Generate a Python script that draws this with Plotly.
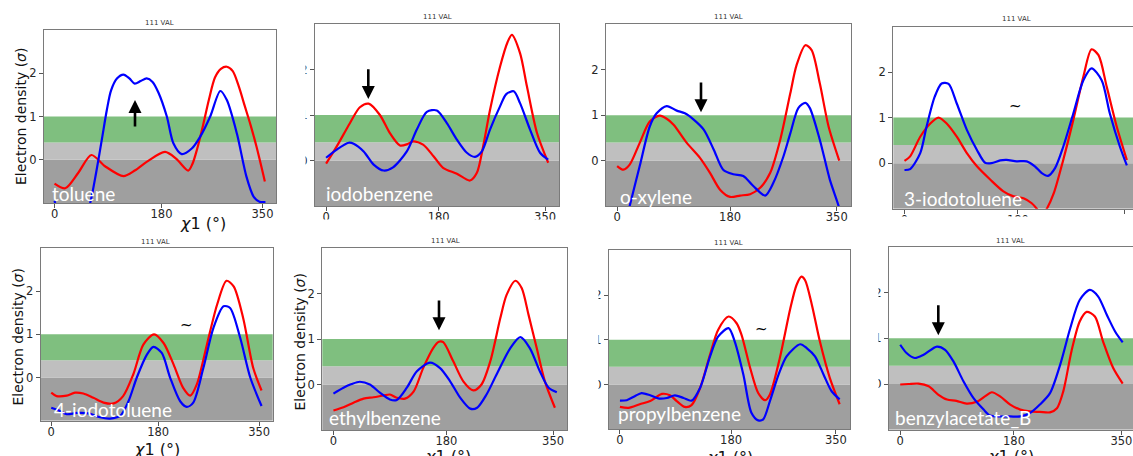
import plotly.graph_objects as go

W, H = 1133, 456

# Electron density profiles along chi1 for each ligand: (chi1 in degrees, density in sigma)
toluene_red = [(0, -0.55), (18, -0.66), (40, -0.3), (62, 0.11), (85, -0.15), (116, -0.38), (135, -0.25),
               (155, -0.05), (186, 0.18), (205, 0.02), (225, -0.25), (232, -0.1), (240, 0.25), (250, 0.8),
               (260, 1.4), (270, 1.9), (280, 2.1), (290, 2.15), (300, 2.05), (310, 1.7), (320, 1.25),
               (330, 0.8), (340, 0.3), (354, -0.5)]
toluene_blue = [(0, -0.95), (8, -1.3), (30, -1.8), (50, -1.4), (60, -1.0), (70, -0.3), (80, 0.5), (88, 1.15),
                (95, 1.6), (105, 1.88), (116, 1.97), (126, 1.88), (135, 1.76), (145, 1.82), (155, 1.88),
                (165, 1.8), (175, 1.55), (189, 1.0), (200, 0.38), (214, 0.13), (231, 0.26), (245, 0.53),
                (262, 1.0), (279, 1.59), (290, 1.38), (307, 0.6), (323, -0.39), (335, -0.85), (345, -0.97),
                (355, -0.98)]

iodobenzene_red = [(0, -0.07), (17, 0.31), (38, 0.82), (54, 1.17), (68, 1.25), (86, 1.0), (102, 0.6),
                   (118, 0.33), (130, 0.36), (139, 0.42), (155, 0.35), (172, 0.09), (187, -0.16), (209, -0.29),
                   (230, -0.44), (241, -0.27), (251, 0.31), (262, 1.11), (278, 2.06), (290, 2.6), (297, 2.76),
                   (310, 2.36), (321, 1.63), (337, 0.61), (355, -0.05)]
iodobenzene_blue = [(0, 0.06), (17, 0.24), (36, 0.39), (44, 0.37), (60, 0.2), (76, -0.09), (92, -0.22),
                    (107, -0.15), (129, 0.2), (145, 0.68), (161, 1.07), (177, 1.1), (193, 0.82), (209, 0.46),
                    (225, 0.17), (238, 0.08), (249, 0.2), (262, 0.68), (278, 1.19), (288, 1.46), (300, 1.52),
                    (310, 1.26), (326, 0.68), (342, 0.17), (355, 0.02)]

oxylene_red = [(0, -0.12), (10, -0.2), (20, -0.09), (36, 0.39), (52, 0.86), (68, 0.99), (79, 0.92), (90, 0.79),
               (111, 0.39), (132, 0.06), (148, -0.27), (164, -0.64), (180, -0.8), (196, -0.77), (212, -0.74),
               (228, -0.6), (244, -0.27), (260, 0.46), (276, 1.48), (286, 2.1), (300, 2.54), (310, 2.43),
               (323, 1.7), (337, 0.75), (354, 0.0)]
oxylene_blue = [(0, -1.9), (10, -1.6), (20, -1.0), (36, -0.12), (52, 0.75), (63, 1.04), (79, 1.2), (95, 1.1),
                (108, 1.04), (122, 0.9), (138, 0.68), (154, 0.24), (169, -0.2), (185, -0.3), (201, -0.34),
                (217, -0.56), (236, -0.77), (249, -0.49), (265, 0.09), (276, 0.6), (289, 1.16), (300, 1.27),
                (307, 1.16), (323, 0.46), (339, -0.42), (353, -1.0), (356, -1.2)]

iodotoluene3_red = [(0, 0.05), (9, 0.15), (25, 0.58), (41, 0.87), (54, 1.0), (67, 0.87), (83, 0.58), (99, 0.22),
                    (115, -0.07), (136, -0.36), (157, -0.62), (173, -0.73), (189, -0.77), (202, -0.88),
                    (210, -1.0), (218, -1.15), (226, -1.0), (237, -0.66), (252, 0.07), (268, 0.95), (284, 1.9),
                    (297, 2.5), (308, 2.37), (321, 1.68), (337, 0.8), (353, 0.07)]
iodotoluene3_blue = [(0, -0.15), (9, -0.13), (25, 0.22), (35, 0.8), (48, 1.46), (59, 1.75), (70, 1.74),
                     (83, 1.31), (99, 0.73), (115, 0.29), (128, 0.01), (138, 0.0), (152, 0.06), (162, 0.07),
                     (178, 0.04), (194, 0.04), (207, -0.07), (218, -0.22), (228, -0.28), (239, -0.11),
                     (252, 0.36), (268, 1.09), (284, 1.82), (297, 2.08), (313, 1.82), (326, 1.09), (342, 0.36),
                     (353, -0.05)]

iodotoluene4_red = [(0, -0.35), (9, -0.43), (26, -0.42), (40, -0.35), (54, -0.37), (71, -0.47), (88, -0.58),
                    (105, -0.6), (121, -0.43), (138, 0.07), (155, 0.76), (173, 1.0), (189, 0.8), (206, 0.3),
                    (222, -0.24), (234, -0.42), (245, -0.16), (262, 0.76), (279, 1.68), (295, 2.24),
                    (307, 2.11), (323, 1.38), (340, 0.22), (354, -0.3)]
iodotoluene4_blue = [(0, -0.7), (12, -0.76), (26, -0.85), (43, -0.82), (63, -0.83), (82, -0.92), (99, -0.95),
                     (116, -0.89), (130, -0.55), (144, 0.0), (161, 0.53), (172, 0.71), (186, 0.57), (200, 0.0),
                     (217, -0.55), (228, -0.68), (239, -0.58), (256, 0.22), (273, 1.15), (290, 1.65),
                     (301, 1.61), (318, 0.92), (335, 0.0), (354, -0.66)]

ethylbenzene_red = [(0, -0.57), (16, -0.5), (32, -0.4), (48, -0.31), (64, -0.28), (80, -0.24), (90, -0.22),
                    (101, -0.29), (114, -0.31), (128, -0.15), (143, 0.36), (159, 0.8), (168, 0.94), (175, 0.93),
                    (191, 0.51), (207, 0.07), (223, -0.13), (236, 0.0), (250, 0.51), (266, 1.46), (276, 1.97),
                    (290, 2.28), (300, 2.12), (311, 1.53), (324, 0.8), (337, 0.07), (353, -0.51)]
ethylbenzene_blue = [(0, -0.2), (16, -0.07), (29, 0.01), (42, 0.06), (58, 0.0), (74, -0.18), (90, -0.33),
                     (101, -0.34), (117, -0.07), (133, 0.29), (154, 0.48), (170, 0.36), (186, 0.07),
                     (202, -0.29), (218, -0.53), (229, -0.51), (244, -0.22), (260, 0.22), (282, 0.8),
                     (298, 1.04), (313, 0.8), (329, 0.29), (343, -0.07), (356, -0.17)]

propylbenzene_red = [(0, -0.5), (14, -0.52), (32, -0.44), (49, -0.37), (68, -0.21), (81, -0.24), (92, -0.37),
                     (105, -0.5), (116, -0.46), (130, -0.07), (146, 0.67), (159, 1.22), (176, 1.52),
                     (189, 1.37), (197, 1.11), (211, 0.37), (224, -0.19), (235, -0.35), (243, -0.22),
                     (259, 0.59), (276, 1.7), (286, 2.22), (294, 2.41), (300, 2.33), (311, 1.78), (324, 0.96),
                     (340, 0.15), (356, -0.44)]
propylbenzene_blue = [(0, -0.36), (11, -0.35), (24, -0.26), (35, -0.19), (49, -0.24), (62, -0.31), (76, -0.3),
                      (89, -0.24), (103, -0.3), (116, -0.36), (130, -0.07), (146, 0.63), (159, 1.07),
                      (176, 1.26), (186, 0.96), (200, 0.22), (213, -0.63), (224, -0.8), (232, -0.78),
                      (243, -0.37), (257, 0.22), (270, 0.63), (292, 0.9), (303, 0.81), (316, 0.63), (330, 0.22),
                      (343, -0.15), (356, -0.33)]

benzylacetate_red = [(0, -0.01), (13, 0.0), (29, 0.01), (45, -0.05), (60, -0.23), (74, -0.34), (89, -0.37),
                     (105, -0.43), (121, -0.39), (134, -0.27), (145, -0.18), (158, -0.27), (174, -0.45),
                     (190, -0.56), (205, -0.6), (221, -0.61), (237, -0.62), (248, -0.53), (258, -0.16),
                     (271, 0.72), (284, 1.37), (295, 1.58), (308, 1.48), (321, 0.93), (337, 0.35), (352, 0.01)]
benzylacetate_blue = [(0, 0.86), (10, 0.68), (23, 0.57), (37, 0.64), (58, 0.82), (71, 0.75), (84, 0.5),
                      (100, 0.06), (116, -0.31), (132, -0.56), (142, -0.69), (158, -0.71), (174, -0.71),
                      (190, -0.71), (205, -0.64), (221, -0.45), (237, -0.2), (253, 0.42), (269, 1.22),
                      (284, 1.84), (300, 2.06), (313, 1.92), (327, 1.51), (340, 1.15), (352, 0.91)]

ligand_names = ["toluene", "iodobenzene", "o-xylene", "3-iodotoluene",
                "4-iodotoluene", "ethylbenzene", "propylbenzene", "benzylacetate_B"]
panel_title = "111 VAL"
chi_ticks = [0, 180, 350]
rho_ticks = [0, 1, 2]
# horizontal bands: (low, high) in sigma
band_dark = (-1, 0)
band_light = (0, 0.4)
band_green = (0.4, 1)

series = [(toluene_red, toluene_blue), (iodobenzene_red, iodobenzene_blue), (oxylene_red, oxylene_blue),
          (iodotoluene3_red, iodotoluene3_blue), (iodotoluene4_red, iodotoluene4_blue),
          (ethylbenzene_red, ethylbenzene_blue), (propylbenzene_red, propylbenzene_blue),
          (benzylacetate_red, benzylacetate_blue)]

# ---- layout of the 2x4 collage (pixel geometry) ----
CHI_RANGE = (-17.75, 372.75)
RHO_RANGE = (-1, 3)
boxes = [  # left, right, top, bottom
    (44, 276, 30, 203), (315, 559.3, 24, 206), (606, 851, 24.3, 206), (893.3, 1139.3, 26.5, 208.7),
    (40.7, 272.7, 248, 420.7), (322.3, 567.3, 248, 430), (609, 850, 250.3, 429.3), (889, 1135.8, 247, 429.7),
]
title_pos = [(159, 23), (437, 17), (728, 17.5), (1016, 19.5), (155, 242), (445, 241.5), (728, 243), (1011, 240.5)]
name_pos = [(50, 193), (324, 193), (618, 196), (902, 198), (52, 409), (327, 417), (616, 413), (893, 417)]
ylabel_pos = {0: (21, 117), 4: (17.5, 337), 5: (299.5, 342)}
xlabel_pos = {0: (203, 223), 4: (157, 449), 5: (448, 456), 6: (730, 457), 7: (1011, 456)}
arrows = {0: (135, 100, 128), 1: (368.3, 99, 67.7), 2: (701, 112.3, 81), 5: (439, 330.3, 299),
          7: (938.3, 335.3, 303.7)}
tildes = {3: (1015.7, 106), 4: (186.7, 324.7), 6: (761, 328.7)}
# white masks: regions trimmed off neighbouring panels
masks = [(280, 305.5, 0, 228), (575, 598.5, 228, 456), (855, 878.5, 228, 456),
         (290, 570, 219.5, 228), (880, 1133, 216.5, 228)]


def px(x, y):
    return x / W, 1 - y / H


fig = go.Figure()
layout = {}
shapes = []
annotations = []
TICK_FONT = dict(family="DejaVu Sans", size=11.5, color="#262626")

for i, ((red, blue), name) in enumerate(zip(series, ligand_names)):
    n = i + 1
    sfx = "" if n == 1 else str(n)
    xa, ya = "x" + sfx, "y" + sfx
    left, right, top, bottom = boxes[i]
    lo, hi = CHI_RANGE
    clipped_right = right > W
    if clipped_right:
        hi = lo + (W - left) * (hi - lo) / (right - left)
        right = W
    axis_line = dict(showline=True, linecolor="#7a7a7a", linewidth=1.3, showgrid=False, zeroline=False,
                     ticks="outside", ticklen=4, tickwidth=1, tickcolor="#555", tickfont=TICK_FONT)
    layout["xaxis" + sfx] = dict(domain=[left / W, right / W], range=[lo, hi], anchor=ya, tickvals=chi_ticks,
                                 mirror=True, ticklabelstandoff=-4, **axis_line)
    layout["yaxis" + sfx] = dict(domain=[1 - bottom / H, 1 - top / H], range=list(RHO_RANGE), anchor=xa,
                                 tickvals=rho_ticks, mirror=not clipped_right, **axis_line)

    for (y0, y1), col in ((band_dark, "#9f9f9f"), (band_light, "#bfbfbf"), (band_green, "#7fbf7f")):
        shapes.append(dict(type="rect", xref=xa + " domain", yref=ya, x0=0, x1=1, y0=y0, y1=y1,
                           fillcolor=col, line=dict(width=0), layer="below"))

    for data, col in ((red, "#ff0000"), (blue, "#0000ff")):
        fig.add_trace(go.Scatter(x=[c for c, _ in data], y=[r for _, r in data], xaxis=xa, yaxis=ya,
                                 mode="lines", line=dict(color=col, width=2.2, shape="spline", smoothing=0.8),
                                 showlegend=False, hoverinfo="skip"))

    tx, ty = px(*title_pos[i])
    annotations.append(dict(x=tx, y=ty, xref="paper", yref="paper", text=panel_title, showarrow=False,
                            xanchor="center", yanchor="middle", font=dict(family="DejaVu Sans", size=7, color="#333")))
    nx, ny = px(*name_pos[i])
    annotations.append(dict(x=nx, y=ny, xref="paper", yref="paper", text=name, showarrow=False,
                            xanchor="left", yanchor="middle", font=dict(family="Lato", size=19, color="white")))

for i, (x, y) in ylabel_pos.items():
    ax_, ay_ = px(x, y)
    annotations.append(dict(x=ax_, y=ay_, xref="paper", yref="paper", text="Electron density (<i>σ</i>)",
                            textangle=-90, showarrow=False, xanchor="center", yanchor="middle",
                            font=dict(family="DejaVu Sans", size=14, color="#111")))
for i, (x, y) in xlabel_pos.items():
    ax_, ay_ = px(x, y)
    annotations.append(dict(x=ax_, y=ay_, xref="paper", yref="paper", text="<i>χ</i>1 (°)",
                            showarrow=False, xanchor="center", yanchor="middle",
                            font=dict(family="DejaVu Sans", size=16, color="#111")))
for i, (x, head, tail) in arrows.items():
    hx, hy = px(x, head)
    annotations.append(dict(x=hx, y=hy, xref="paper", yref="paper", ax=0, ay=tail - head, text="",
                            showarrow=True, arrowhead=2, arrowsize=1, arrowwidth=2.6, arrowcolor="black"))
for i, (x, y) in tildes.items():
    tx, ty = px(x, y)
    annotations.append(dict(x=tx, y=ty, xref="paper", yref="paper", text="~", showarrow=False,
                            xanchor="center", yanchor="middle",
                            font=dict(family="DejaVu Sans", size=15, color="black")))

for x0, x1, y0, y1 in masks:
    shapes.append(dict(type="rect", xref="paper", yref="paper", x0=x0 / W, x1=x1 / W,
                       y0=1 - y1 / H, y1=1 - y0 / H, fillcolor="white", line=dict(width=0), layer="above"))

fig.update_layout(width=W, height=H, margin=dict(l=0, r=0, t=0, b=0), paper_bgcolor="white",
                  plot_bgcolor="white", shapes=shapes, annotations=annotations, **layout)
fig.write_html("out.html")
